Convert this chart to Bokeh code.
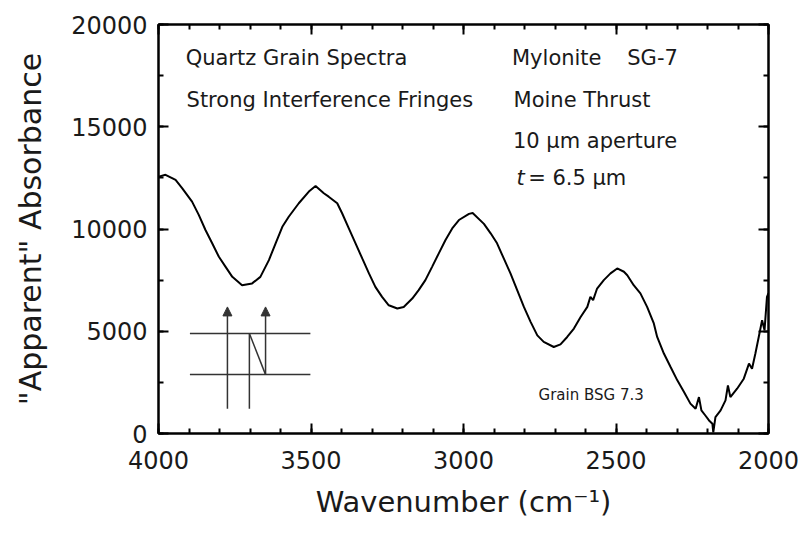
from bokeh.plotting import figure
from bokeh.models import Range1d, LinearAxis, SingleIntervalTicker, Arrow, NormalHead
from bokeh.core.properties import value
from bokeh.embed import file_html
from bokeh.resources import INLINE

# Spectrum: wavenumber (cm-1) and "apparent" absorbance
wavenumber = [3999, 3977, 3944, 3922, 3890, 3868, 3846, 3824, 3802, 3780, 3758, 3726,
              3693, 3666, 3638, 3616, 3594, 3573, 3540, 3507, 3485, 3458, 3442, 3414,
              3398, 3376, 3354, 3332, 3310, 3289, 3267, 3245, 3217, 3196, 3168, 3147,
              3125, 3103, 3081, 3059, 3037, 3015, 2982, 2970, 2933, 2911, 2890, 2868,
              2846, 2824, 2802, 2780, 2758, 2737, 2704, 2682, 2660, 2638, 2616, 2594,
              2584, 2575, 2562, 2540, 2518, 2496, 2474, 2463, 2442, 2420, 2398, 2376,
              2365, 2343, 2321, 2299, 2277, 2256, 2239, 2228, 2220, 2207, 2195, 2184,
              2181, 2174, 2157, 2141, 2133, 2125, 2103, 2081, 2064, 2054, 2043, 2032,
              2021, 2013, 2005, 2000]
absorbance = [12560, 12650, 12400, 11990, 11340, 10690, 9950, 9300, 8640, 8150, 7660, 7250,
              7340, 7660, 8480, 9300, 10110, 10600, 11260, 11830, 12100, 11750, 11580, 11260,
              10770, 10030, 9300, 8560, 7830, 7170, 6680, 6270, 6110, 6190, 6600, 7010,
              7500, 8150, 8810, 9460, 10030, 10440, 10740, 10780, 10250, 9790, 9300, 8560,
              7830, 7010, 6190, 5460, 4800, 4480, 4230, 4360, 4720, 5130, 5700, 6190,
              6680, 6520, 7090, 7500, 7830, 8070, 7910, 7740, 7250, 6850, 6190, 5380,
              4720, 3910, 3250, 2600, 2030, 1460, 1210, 1780, 1130, 880, 640, 480,
              60, 800, 1130, 1620, 2350, 1780, 2190, 2680, 3420, 3170, 3910, 4720,
              5540, 5050, 6680, 6860]

# Annotation texts (data coordinates)
note_texts = ["Quartz Grain Spectra", "Strong Interference Fringes", "Mylonite", "SG-7",
              "Moine Thrust", "10 \u03bcm aperture", "= 6.5 \u03bcm"]
note_x = [3911, 3908, 2841, 2463, 2836, 2838, 2788]
note_y = [18380, 16320, 18370, 18370, 16320, 14280, 12500]

# Inset schematic (data coordinates)
hline_x0 = [3897, 3897]
hline_x1 = [3502, 3502]
hline_y = [4890, 2880]
arrow_x = [3774, 3649]
arrow_y0 = [1210, 2880]
arrow_y1 = [6190, 6190]
vline_x = 3702
vline_y0 = 1210
vline_y1 = 4890
diag_x = [3702, 3649]
diag_y = [4890, 2880]

FONT = "DejaVu Sans"

p = figure(width=803, height=539, frame_width=610, frame_height=409,
           output_backend="svg", toolbar_location=None,
           x_range=Range1d(4000, 2000), y_range=Range1d(0, 20000),
           min_border_left=158, min_border_top=24, min_border_right=35,
           min_border_bottom=106)
p.background_fill_color = "white"
p.border_fill_color = "white"
p.outline_line_color = "black"
p.outline_line_width = 2
p.grid.visible = False

xt = SingleIntervalTicker(interval=500, num_minor_ticks=5)
yt = SingleIntervalTicker(interval=5000, num_minor_ticks=2)

for ax, tk in ((p.xaxis[0], xt), (p.yaxis[0], yt)):
    ax.ticker = tk
    ax.axis_line_color = "black"
    ax.axis_line_width = 2
    ax.major_tick_in = 10
    ax.major_tick_out = 0
    ax.minor_tick_in = 5
    ax.minor_tick_out = 0
    ax.major_tick_line_width = 2
    ax.minor_tick_line_width = 2
    ax.major_label_text_font = FONT
    ax.major_label_text_font_size = "24px"
    ax.major_label_text_color = "#1a1a1a"
    ax.axis_label_text_font = FONT
    ax.axis_label_text_font_style = "normal"
    ax.axis_label_text_color = "#1a1a1a"

p.xaxis[0].major_label_standoff = 17
p.yaxis[0].major_label_standoff = 11
p.xaxis[0].axis_label = "Wavenumber (cm\u207b\u00b9)"
p.yaxis[0].axis_label = "\"Apparent\" Absorbance"
p.xaxis[0].axis_label_text_font_size = "29px"
p.yaxis[0].axis_label_text_font_size = "30px"
p.xaxis[0].axis_label_standoff = 13
p.yaxis[0].axis_label_standoff = 20

for loc, tk in (("right", yt), ("above", xt)):
    ax = LinearAxis(ticker=tk)
    ax.axis_line_color = "black"
    ax.axis_line_width = 2
    ax.major_tick_in = 10
    ax.major_tick_out = 0
    ax.minor_tick_in = 5
    ax.minor_tick_out = 0
    ax.major_tick_line_width = 2
    ax.minor_tick_line_width = 2
    ax.major_label_text_color = None
    ax.major_label_text_font_size = "1px"
    ax.major_label_standoff = 0
    p.add_layout(ax, loc)

p.line(wavenumber, absorbance, line_color="black", line_width=2)

p.text(x=note_x, y=note_y, text=note_texts, text_font=value(FONT),
       text_font_size="21px", text_baseline="middle", text_align="left",
       text_color="#1a1a1a")
p.text(x=[2826], y=[12500], text=["t"], text_font=value(FONT),
       text_font_size="21px", text_font_style="italic", text_baseline="middle",
       text_align="left", text_color="#1a1a1a")
p.text(x=[2754], y=[1860], text=["Grain BSG 7.3"], text_font=value(FONT),
       text_font_size="15px", text_baseline="middle", text_align="left",
       text_color="#1a1a1a")

sc = "#333333"
p.segment(x0=hline_x0, y0=hline_y, x1=hline_x1, y1=hline_y, line_color=sc, line_width=1.5)
p.segment(x0=[vline_x], y0=[vline_y0], x1=[vline_x], y1=[vline_y1], line_color=sc, line_width=1.5)
p.line(diag_x, diag_y, line_color=sc, line_width=1.5)
for xa, ya0, ya1 in zip(arrow_x, arrow_y0, arrow_y1):
    p.add_layout(Arrow(end=NormalHead(size=9, fill_color=sc, line_color=sc),
                       x_start=xa, y_start=ya0, x_end=xa, y_end=ya1,
                       line_color=sc, line_width=1.5))

open("out.html", "w").write(file_html(p, INLINE))
